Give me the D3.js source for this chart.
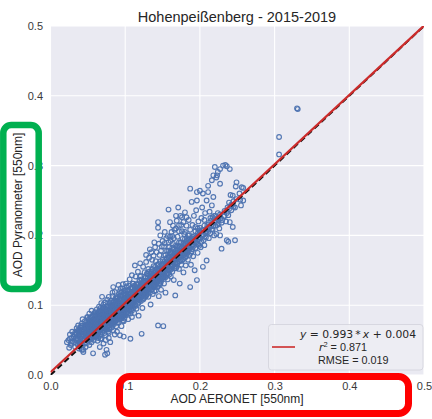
<!DOCTYPE html>
<html>
<head>
<meta charset="utf-8">
<script src="https://cdn.jsdelivr.net/npm/d3@7"></script>
<style>
  html, body { margin: 0; padding: 0; background: #ffffff; }
  svg { display: block; }
</style>
</head>
<body>
<svg id="chart" width="432" height="419"></svg>
<script>
// ---------- DATA ----------
const titleText = "Hohenpeißenberg - 2015-2019";
const xLabel = "AOD AERONET [550nm]";
const yLabel = "AOD Pyranometer [550nm]";
const tickValues = [0.0, 0.1, 0.2, 0.3, 0.4, 0.5];
const fitSlope = 0.993;
const fitIntercept = 0.004;
const fitR2 = "0.871";
const fitRMSE = "0.019";

// [AOD AERONET, AOD Pyranometer] pairs
const aodPairs = [
[.022,.047],[.024,.050],[.026,.058],[.027,.043],[.028,.053],[.029,.062],[.025,.039],[.029,.048],[.026,.052],[.028,.046],
[.031,.055],[.032,.047],[.033,.061],[.033,.040],[.034,.052],[.035,.067],[.035,.058],[.036,.044],[.036,.063],[.037,.050],
[.037,.071],[.038,.056],[.038,.038],[.039,.065],[.039,.047],[.034,.059],[.036,.053],[.038,.061],[.039,.043],[.042,.036],
[.040,.052],[.040,.068],[.041,.058],[.041,.045],[.042,.074],[.042,.062],[.043,.055],[.043,.049],[.043,.080],[.044,.066],
[.044,.033],[.044,.058],[.045,.071],[.045,.052],[.046,.061],[.046,.045],[.046,.077],[.047,.056],[.047,.067],[.047,.040],
[.048,.063],[.048,.072],[.048,.051],[.049,.058],[.049,.083],[.049,.046],[.045,.064],[.042,.070],[.047,.060],[.044,.050],
[.049,.068],[.041,.064],[.044,.036],
[.032,.058],[.035,.050],[.037,.063],[.040,.060],[.041,.071],[.043,.063],[.045,.058],[.046,.069],[.048,.056],[.049,.075],
[.040,.046],[.043,.042],
[.050,.060],[.050,.072],[.050,.049],[.051,.066],[.051,.079],[.051,.055],[.052,.062],[.052,.088],[.052,.043],[.053,.070],
[.053,.057],[.053,.075],[.054,.064],[.054,.051],[.054,.082],[.055,.068],[.055,.059],[.055,.092],[.055,.047],[.056,.073],
[.056,.063],[.056,.078],[.057,.055],[.057,.067],[.057,.085],[.057,.031],[.058,.060],[.058,.071],[.058,.050],[.059,.076],
[.059,.064],[.059,.089],[.059,.056],[.050,.083],[.052,.075],[.054,.070],[.056,.058],[.058,.080],[.053,.065],[.055,.076],
[.057,.061],[.059,.070],
[.050,.066],[.051,.071],[.052,.058],[.052,.081],[.053,.061],[.054,.076],[.055,.054],[.055,.084],[.056,.068],[.057,.078],
[.058,.066],[.058,.087],[.059,.060],
[.060,.066],[.060,.078],[.060,.054],[.061,.072],[.061,.085],[.061,.061],[.062,.069],[.062,.094],[.062,.057],[.063,.075],
[.063,.064],[.063,.081],[.063,.049],[.064,.071],[.064,.088],[.064,.060],[.065,.067],[.065,.079],[.065,.098],[.065,.055],
[.066,.074],[.066,.063],[.066,.084],[.067,.070],[.067,.090],[.067,.058],[.067,.077],[.068,.066],[.068,.082],[.068,.103],
[.068,.052],[.069,.073],[.069,.061],[.069,.087],[.069,.079],[.060,.090],[.061,.068],[.062,.080],[.063,.070],[.064,.076],
[.065,.085],[.066,.069],[.067,.065],[.068,.075],[.069,.068],[.062,.063],[.064,.083],[.066,.092],[.066,.040],[.069,.112],
[.060,.072],[.060,.084],[.061,.077],[.062,.074],[.062,.088],[.063,.059],[.063,.086],[.064,.066],[.065,.073],[.065,.091],
[.066,.079],[.067,.084],[.067,.096],[.068,.070],[.068,.088],[.069,.083],[.069,.095],[.061,.056],[.064,.053],[.067,.052],
[.070,.076],[.070,.088],[.070,.064],[.071,.082],[.071,.070],[.071,.097],[.072,.075],[.072,.060],[.072,.091],[.073,.079],
[.073,.068],[.073,.029],[.073,.104],[.074,.085],[.074,.072],[.074,.057],[.075,.081],[.075,.093],[.075,.066],[.075,.036],
[.076,.077],[.076,.088],[.076,.031],[.076,.070],[.077,.083],[.077,.062],[.077,.099],[.077,.075],[.078,.089],[.078,.071],
[.078,.080],[.078,.112],[.079,.076],[.079,.066],[.079,.094],[.079,.085],[.070,.080],[.071,.090],[.072,.068],[.073,.086],
[.074,.095],[.074,.079],[.075,.074],[.076,.083],[.077,.069],[.078,.060],[.079,.081],[.072,.083],[.073,.074],[.075,.087],
[.076,.065],[.078,.092],[.071,.045],[.074,.050],[.078,.053],[.080,.047],
[.070,.071],[.070,.094],[.071,.077],[.071,.101],[.072,.087],[.072,.096],[.073,.082],[.073,.092],[.074,.067],[.074,.089],
[.075,.078],[.075,.098],[.076,.093],[.076,.074],[.077,.087],[.077,.079],[.078,.085],[.078,.097],[.079,.071],[.079,.089],
[.076,.108],[.079,.104],
[.080,.085],[.080,.097],[.080,.074],[.081,.090],[.081,.079],[.081,.106],[.082,.084],[.082,.068],[.082,.095],[.083,.088],
[.083,.076],[.083,.113],[.084,.092],[.084,.081],[.084,.064],[.085,.087],[.085,.100],[.085,.073],[.086,.094],[.086,.082],
[.086,.119],[.086,.058],[.087,.089],[.087,.077],[.087,.105],[.088,.085],[.088,.096],[.088,.070],[.089,.091],[.089,.080],
[.089,.110],[.089,.062],[.080,.092],[.081,.099],[.082,.088],[.083,.082],[.083,.100],[.084,.086],[.085,.094],[.085,.079],
[.086,.088],[.087,.097],[.087,.083],[.088,.090],[.088,.078],[.089,.086],[.089,.099],[.084,.104],[.082,.078],[.086,.101],
[.081,.085],[.088,.102],[.084,.126],
[.080,.080],[.080,.102],[.081,.094],[.081,.072],[.082,.091],[.082,.101],[.083,.094],[.083,.071],[.084,.097],[.084,.076],
[.085,.083],[.085,.106],[.086,.091],[.086,.077],[.087,.093],[.087,.110],[.088,.082],[.088,.107],[.089,.095],[.089,.075],
[.083,.118],
[.090,.094],[.090,.083],[.090,.106],[.091,.089],[.091,.099],[.091,.075],[.092,.096],[.092,.085],[.092,.116],[.093,.091],
[.093,.080],[.093,.057],[.093,.103],[.094,.097],[.094,.087],[.094,.124],[.095,.093],[.095,.081],[.095,.108],[.095,.070],
[.096,.099],[.096,.089],[.096,.113],[.097,.095],[.097,.084],[.097,.130],[.098,.101],[.098,.091],[.098,.055],[.098,.077],
[.099,.097],[.099,.087],[.099,.110],[.090,.100],[.091,.093],[.092,.103],[.093,.097],[.094,.092],[.094,.082],[.095,.100],
[.096,.094],[.096,.104],[.097,.090],[.097,.107],[.098,.096],[.099,.093],[.099,.121],[.092,.090],[.095,.087],[.098,.085],
[.091,.129],
[.090,.089],[.090,.112],[.091,.104],[.091,.082],[.092,.093],[.092,.108],[.093,.086],[.093,.109],[.094,.101],[.094,.114],
[.095,.096],[.095,.118],[.096,.085],[.096,.109],[.097,.100],[.097,.078],[.098,.106],[.098,.117],[.099,.102],[.099,.081],
[.093,.120],[.097,.124],
[.100,.104],[.100,.093],[.100,.115],[.101,.099],[.101,.110],[.101,.086],[.102,.106],[.102,.095],[.102,.127],[.103,.101],
[.103,.090],[.103,.113],[.104,.105],[.104,.097],[.104,.080],[.104,.120],[.105,.102],[.105,.110],[.105,.093],[.106,.108],
[.106,.099],[.106,.137],[.107,.104],[.107,.052],[.107,.088],[.107,.116],[.108,.101],[.108,.110],[.108,.094],[.109,.106],
[.109,.098],[.109,.125],[.109,.083],[.100,.108],[.101,.103],[.102,.100],[.103,.107],[.104,.112],[.105,.098],[.106,.103],
[.107,.098],[.108,.105],[.109,.113],[.103,.095],[.106,.116],[.109,.143],
[.100,.098],[.100,.120],[.101,.093],[.101,.116],[.102,.112],[.102,.089],[.103,.104],[.103,.122],[.104,.101],[.104,.088],
[.105,.106],[.105,.116],[.106,.095],[.106,.112],[.107,.108],[.107,.124],[.108,.098],[.108,.116],[.109,.102],[.109,.092],
[.101,.131],[.105,.128],
[.110,.114],[.110,.103],[.110,.125],[.111,.109],[.111,.096],[.111,.131],[.112,.116],[.112,.105],[.112,.089],[.113,.112],
[.113,.121],[.113,.100],[.114,.117],[.114,.108],[.114,.141],[.115,.113],[.115,.124],[.115,.095],[.116,.119],[.116,.106],
[.116,.130],[.117,.115],[.117,.102],[.117,.148],[.118,.121],[.118,.110],[.118,.085],[.119,.117],[.119,.126],[.119,.107],
[.110,.118],[.111,.120],[.112,.111],[.113,.127],[.114,.112],[.115,.118],[.116,.111],[.117,.123],[.118,.114],[.119,.136],
[.113,.157],
[.110,.108],[.110,.131],[.111,.114],[.111,.102],[.112,.121],[.112,.128],[.113,.106],[.113,.116],[.114,.123],[.114,.099],
[.115,.108],[.115,.130],[.116,.115],[.116,.124],[.117,.109],[.117,.129],[.118,.104],[.118,.126],[.119,.112],[.119,.121],
[.120,.124],[.120,.112],[.120,.135],[.121,.118],[.121,.106],[.121,.142],[.122,.126],[.122,.059],[.122,.115],[.123,.121],
[.123,.131],[.123,.096],[.124,.127],[.124,.116],[.124,.155],[.125,.122],[.125,.135],[.125,.110],[.126,.128],[.126,.118],
[.126,.147],[.127,.124],[.127,.112],[.127,.139],[.128,.130],[.128,.120],[.128,.162],[.129,.126],[.129,.115],[.129,.145],
[.120,.128],[.122,.132],[.124,.121],[.126,.123],[.128,.125],[.120,.160],
[.120,.118],[.120,.141],[.121,.124],[.121,.112],[.122,.121],[.122,.137],[.123,.115],[.123,.126],[.124,.133],[.124,.108],
[.125,.128],[.125,.117],[.126,.132],[.126,.112],[.127,.129],[.127,.119],[.128,.135],[.128,.114],[.129,.121],[.129,.131],
[.128,.172],
[.130,.133],[.130,.121],[.130,.145],[.131,.128],[.131,.112],[.131,.152],[.132,.136],[.132,.124],[.133,.131],[.133,.180],
[.133,.118],[.134,.139],[.134,.127],[.134,.101],[.135,.134],[.135,.148],[.135,.122],[.136,.137],[.136,.129],[.136,.165],
[.137,.133],[.137,.116],[.137,.143],[.138,.139],[.138,.126],[.138,.156],[.139,.135],[.139,.120],[.132,.142],[.136,.145],
[.130,.127],[.130,.139],[.131,.134],[.131,.120],[.132,.130],[.132,.148],[.133,.125],[.133,.138],[.134,.133],[.134,.145],
[.135,.128],[.135,.140],[.136,.123],[.136,.152],[.137,.138],[.137,.127],[.138,.133],[.138,.146],[.139,.141],[.139,.128],
[.132,.168],[.135,.176],[.138,.171],[.139,.190],
[.140,.142],[.140,.129],[.140,.155],[.141,.137],[.141,.121],[.141,.163],[.142,.145],[.142,.133],[.143,.140],[.143,.151],
[.143,.126],[.144,.071],[.144,.219],[.144,.211],[.144,.147],[.144,.135],[.145,.143],[.145,.159],[.145,.113],[.146,.150],
[.146,.138],[.146,.172],[.147,.146],[.147,.130],[.147,.156],[.148,.141],[.148,.153],[.148,.122],[.149,.149],[.149,.137],
[.149,.184],
[.140,.136],[.140,.148],[.141,.143],[.141,.129],[.142,.139],[.142,.152],[.143,.134],[.143,.158],[.144,.141],[.144,.128],
[.145,.150],[.145,.136],[.146,.144],[.146,.131],[.147,.139],[.147,.163],[.148,.147],[.148,.134],[.149,.143],[.149,.158],
[.140,.183],[.142,.176],[.145,.188],[.148,.178],[.147,.200],
[.150,.152],[.150,.139],[.150,.165],[.151,.070],[.151,.147],[.151,.158],[.152,.143],[.152,.171],[.152,.131],[.153,.155],
[.153,.148],[.153,.189],[.154,.160],[.154,.140],[.154,.118],[.155,.153],[.155,.166],[.156,.146],[.156,.178],[.156,.157],
[.157,.162],[.157,.137],[.157,.199],[.158,.237],[.158,.151],[.158,.169],[.159,.160],[.159,.144],[.159,.183],
[.150,.146],[.150,.158],[.151,.140],[.152,.150],[.152,.162],[.153,.141],[.154,.152],[.154,.172],[.155,.145],[.155,.159],
[.156,.151],[.156,.168],[.157,.155],[.157,.145],[.158,.160],[.158,.178],[.159,.152],[.159,.168],
[.150,.192],[.152,.184],[.155,.196],[.158,.190],[.153,.205],
[.160,.163],[.160,.150],[.160,.219],[.160,.176],[.161,.157],[.161,.192],[.161,.141],[.162,.168],[.162,.159],[.162,.205],
[.163,.163],[.163,.148],[.163,.182],[.164,.214],[.164,.170],[.164,.156],[.165,.165],[.165,.196],[.165,.136],[.166,.174],
[.166,.160],[.167,.114],[.167,.185],[.167,.167],[.168,.153],[.168,.210],[.169,.172],[.169,.162],
[.160,.157],[.160,.170],[.161,.164],[.161,.178],[.162,.152],[.162,.174],[.163,.169],[.163,.156],[.164,.162],[.164,.188],
[.165,.171],[.165,.180],[.166,.166],[.166,.153],[.167,.175],[.167,.160],[.168,.178],[.168,.166],[.169,.184],[.169,.155],
[.160,.198],
[.170,.175],[.170,.160],[.170,.198],[.171,.240],[.171,.168],[.171,.185],[.172,.152],[.172,.206],[.173,.131],[.173,.177],
[.173,.163],[.174,.190],[.174,.171],[.175,.215],[.175,.158],[.175,.182],[.176,.174],[.176,.226],[.177,.166],[.177,.195],
[.178,.181],[.178,.147],[.179,.172],[.179,.202],
[.170,.168],[.170,.182],[.171,.176],[.172,.170],[.172,.190],[.173,.184],[.174,.165],[.174,.178],[.175,.170],[.175,.190],
[.176,.182],[.176,.164],[.177,.178],[.178,.188],[.178,.172],[.179,.183],
[.163,.199],[.166,.208],[.169,.221],[.172,.214],[.174,.228],[.178,.219],[.180,.233],[.168,.228],[.176,.206],[.182,.226],
[.180,.185],[.180,.168],[.180,.205],[.181,.178],[.181,.157],[.182,.192],[.182,.214],[.183,.175],[.183,.186],[.184,.165],
[.184,.200],[.185,.181],[.185,.222],[.186,.190],[.186,.172],[.187,.126],[.187,.267],[.187,.208],[.188,.184],[.188,.158],
[.189,.248],[.189,.196],[.189,.177],
[.180,.176],[.180,.195],[.181,.188],[.182,.180],[.182,.170],[.183,.196],[.184,.185],[.184,.178],[.185,.193],[.186,.182],
[.186,.200],[.187,.189],[.188,.193],[.188,.175],[.189,.186],
[.190,.193],[.190,.180],[.190,.215],[.191,.187],[.191,.170],[.192,.199],[.192,.228],[.193,.150],[.193,.190],[.194,.206],
[.194,.182],[.195,.196],[.195,.236],[.196,.136],[.196,.262],[.196,.250],[.196,.188],[.197,.203],[.197,.175],[.198,.194],
[.198,.220],[.199,.185],[.199,.200],
[.190,.198],[.191,.192],[.192,.185],[.193,.196],[.194,.212],[.195,.190],[.196,.198],[.197,.210],[.198,.187],[.199,.207],
[.200,.264],[.200,.197],[.200,.211],[.201,.183],[.201,.205],[.202,.191],[.202,.225],[.203,.200],[.203,.240],[.204,.260],
[.204,.155],[.204,.208],[.205,.193],[.206,.214],[.206,.186],[.207,.203],[.207,.232],[.208,.197],[.209,.164],[.209,.250],
[.209,.210],
[.201,.196],[.203,.207],[.205,.201],[.206,.222],[.208,.205],
[.211,.271],[.211,.262],[.211,.205],[.212,.218],[.212,.196],[.213,.212],[.213,.234],[.214,.203],[.215,.221],[.216,.279],
[.216,.243],[.216,.209],[.217,.226],[.218,.286],[.218,.255],[.218,.213],[.219,.219],[.219,.200],
[.210,.215],[.212,.208],[.214,.225],[.215,.214],[.217,.208],[.219,.228],
[.220,.298],[.220,.221],[.221,.228],[.222,.283],[.222,.202],[.223,.286],[.223,.215],[.224,.291],[.224,.232],[.225,.222],
[.226,.210],[.227,.295],[.227,.274],[.227,.200],[.228,.225],[.229,.181],[.229,.218],
[.221,.214],[.223,.224],[.225,.217],[.227,.230],
[.231,.300],[.232,.227],[.233,.235],[.234,.301],[.235,.220],[.236,.299],[.236,.193],[.237,.240],[.238,.229],[.239,.247],
[.240,.295],[.240,.219],[.238,.191],
[.230,.222],[.233,.228],[.236,.232],[.239,.238],
[.241,.258],[.242,.236],[.243,.243],[.244,.257],[.244,.212],[.245,.249],[.247,.193],[.247,.240],[.249,.276],[.249,.252],
[.248,.270],[.242,.244],[.245,.241],
[.253,.260],[.254,.251],[.256,.269],[.258,.250],[.258,.268],[.255,.243],
[.306,.316],[.306,.341],[.330,.382],[.331,.381]
];

// ---------- LAYOUT ----------
const svg = d3.select("#chart");
const W = 432, H = 419;
const plot = { left: 50.5, right: 424, top: 26, bottom: 375 };

const x = d3.scaleLinear().domain([0, 0.5]).range([plot.left, plot.right]);
const y = d3.scaleLinear().domain([0, 0.5]).range([plot.bottom, plot.top]);

const FONT = "'Liberation Sans', Arial, sans-serif";

svg.append("rect").attr("width", W).attr("height", H).attr("fill", "#ffffff");

// plot background
svg.append("rect")
  .attr("x", plot.left).attr("y", plot.top)
  .attr("width", plot.right - plot.left).attr("height", plot.bottom - plot.top)
  .attr("fill", "#EAEAF2");

svg.append("defs").append("clipPath").attr("id", "clip")
  .append("rect")
  .attr("x", plot.left).attr("y", plot.top)
  .attr("width", plot.right - plot.left).attr("height", plot.bottom - plot.top);

// grid
const grid = svg.append("g");
grid.selectAll("line.v").data(tickValues).join("line")
  .attr("x1", d => x(d)).attr("x2", d => x(d))
  .attr("y1", plot.top).attr("y2", plot.bottom)
  .attr("stroke", "#ffffff").attr("stroke-width", 1.1);
grid.selectAll("line.h").data(tickValues).join("line")
  .attr("y1", d => y(d)).attr("y2", d => y(d))
  .attr("x1", plot.left).attr("x2", plot.right)
  .attr("stroke", "#ffffff").attr("stroke-width", 1.1);

// axes (labels only)
const fmt = d3.format(".1f");
const xAxis = svg.append("g")
  .attr("transform", `translate(0,${plot.bottom})`)
  .call(d3.axisBottom(x).tickValues(tickValues).tickFormat(fmt).tickSize(0).tickPadding(7));
const yAxis = svg.append("g")
  .attr("transform", `translate(${plot.left},0)`)
  .call(d3.axisLeft(y).tickValues(tickValues).tickFormat(fmt).tickSize(0).tickPadding(7.5));
[xAxis, yAxis].forEach(a => {
  a.select(".domain").remove();
  a.selectAll("text").attr("font-family", FONT).attr("font-size", 11).attr("fill", "#3a3a3a");
});

const inner = svg.append("g").attr("clip-path", "url(#clip)");

// scatter
inner.append("g").selectAll("circle").data(aodPairs).join("circle")
  .attr("cx", d => x(d[0])).attr("cy", d => y(d[1]))
  .attr("r", 2.35)
  .attr("fill", "none")
  .attr("stroke", "#4C72B0")
  .attr("stroke-opacity", 0.95)
  .attr("stroke-width", 1.15);

// 1:1 line
inner.append("line")
  .attr("x1", x(0)).attr("y1", y(0)).attr("x2", x(0.5)).attr("y2", y(0.5))
  .attr("stroke", "#111111").attr("stroke-width", 2).attr("stroke-dasharray", "6,3.5");

// fit line
inner.append("line")
  .attr("x1", x(0)).attr("y1", y(fitIntercept))
  .attr("x2", x(0.5)).attr("y2", y(fitSlope * 0.5 + fitIntercept))
  .attr("stroke", "#cc2b2b").attr("stroke-width", 2.2);

// legend
const lg = svg.append("g");
lg.append("rect")
  .attr("x", 268.5).attr("y", 324.5).attr("width", 154.5).attr("height", 45.5)
  .attr("rx", 3)
  .attr("fill", "#EDEDF3").attr("fill-opacity", 0.9)
  .attr("stroke", "#d2d2da").attr("stroke-width", 0.8);
lg.append("line")
  .attr("x1", 272).attr("x2", 295).attr("y1", 347).attr("y2", 347)
  .attr("stroke", "#cc2b2b").attr("stroke-width", 1.6);
const eq = lg.append("text")
  .attr("x", 358).attr("y", 338).attr("text-anchor", "middle")
  .attr("font-family", "'DejaVu Sans', sans-serif").attr("font-size", 10.8).attr("fill", "#262626");
eq.append("tspan").attr("font-style", "italic").text("y");
eq.append("tspan").text(` = ${fitSlope}`);
eq.append("tspan").text("\u2009*\u2009");
eq.append("tspan").attr("font-style", "italic").text("x");
eq.append("tspan").text(` + ${fitIntercept}`);
const r2 = lg.append("text")
  .attr("x", 319).attr("y", 351)
  .attr("font-family", FONT).attr("font-size", 10.8).attr("fill", "#262626");
r2.append("tspan").attr("font-family", "'DejaVu Sans', sans-serif").attr("font-style", "italic").text("r");
r2.append("tspan").attr("font-size", 7.5).attr("dy", -4).text("2");
r2.append("tspan").attr("dy", 4).text(` = ${fitR2}`);
lg.append("text")
  .attr("x", 318).attr("y", 363.5)
  .attr("font-family", FONT).attr("font-size", 10.8).attr("fill", "#262626")
  .text(`RMSE = ${fitRMSE}`);

// title
svg.append("text")
  .attr("x", 237).attr("y", 21.5).attr("text-anchor", "middle")
  .attr("font-family", FONT).attr("font-size", 14.5).attr("fill", "#262626")
  .text(titleText);

// axis titles
svg.append("text")
  .attr("x", 237).attr("y", 403).attr("text-anchor", "middle")
  .attr("font-family", FONT).attr("font-size", 12).attr("fill", "#262626")
  .text(xLabel);
svg.append("text")
  .attr("transform", "translate(22,205) rotate(-90)")
  .attr("text-anchor", "middle")
  .attr("font-family", FONT).attr("font-size", 12).attr("fill", "#262626")
  .text(yLabel);

// highlight boxes
svg.append("rect")
  .attr("x", 3.3).attr("y", 125).attr("width", 35.4).attr("height", 164)
  .attr("rx", 8).attr("fill", "none")
  .attr("stroke", "#00B050").attr("stroke-width", 6.5);
svg.append("rect")
  .attr("x", 119.5).attr("y", 376.5).attr("width", 289).attr("height", 37)
  .attr("rx", 10).attr("fill", "none")
  .attr("stroke", "#FF0000").attr("stroke-width", 7);
</script>
</body>
</html>
